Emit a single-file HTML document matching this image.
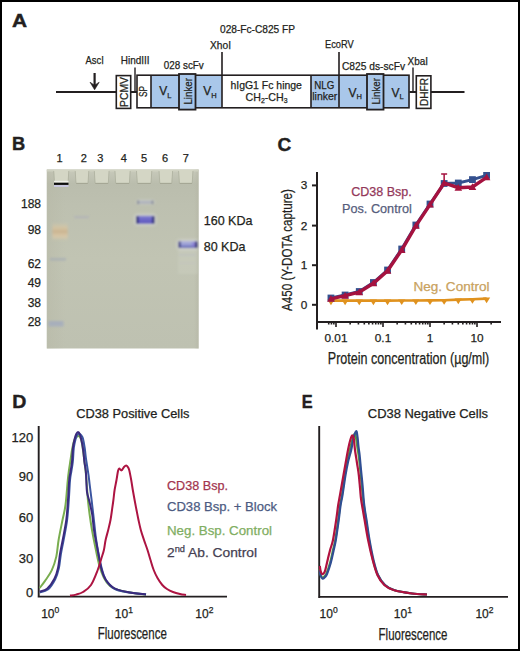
<!DOCTYPE html>
<html><head><meta charset="utf-8"><title>Figure</title>
<style>
html,body{margin:0;padding:0;background:#fff;}
body{width:520px;height:651px;overflow:hidden;}
svg{display:block;font-family:"Liberation Sans",sans-serif;}
</style></head><body>
<svg width="520" height="651" viewBox="0 0 520 651">
<rect x="1" y="1" width="518" height="649" fill="#fff" stroke="#000" stroke-width="2"/>
<text transform="translate(11.9,26.6) scale(1.1,1)" font-size="19" font-weight="bold" fill="#231f20" stroke="#231f20" stroke-width="0.45">A</text>
<path d="M56,92H116 M131,92H137 M409,92H416 M431,92H464.5" stroke="#231f20" stroke-width="1.9" fill="none"/>
<path d="M94.6,73V86" stroke="#231f20" stroke-width="2.2"/>
<path d="M90,82.2 L94.6,89.8 L99.2,82.2 L94.6,85.2Z" fill="#231f20" stroke="#231f20" stroke-width="0.6" stroke-linejoin="round"/>
<rect x="151" y="75" width="160" height="33" fill="#a9c7ea"/>
<rect x="222" y="75" width="89" height="33" fill="#fff"/>
<rect x="311" y="75" width="98.5" height="33" fill="#a9c7ea"/>
<rect x="137" y="75.2" width="272" height="32.6" fill="none" stroke="#231f20" stroke-width="1.6"/>
<path d="M151,75V108 M222,52V108 M311,75V108 M339,52V108" stroke="#231f20" stroke-width="1.6" fill="none"/>
<path d="M135,67.5V92 M413,67.5V92" stroke="#231f20" stroke-width="1.4" fill="none"/>
<rect x="179" y="74" width="16.5" height="35.6" fill="#a9c7ea" stroke="#231f20" stroke-width="1.8"/>
<rect x="367" y="74" width="16.5" height="35.6" fill="#a9c7ea" stroke="#231f20" stroke-width="1.8"/>
<rect x="116.3" y="75.6" width="14.4" height="32.8" fill="#fff" stroke="#231f20" stroke-width="1.6"/>
<rect x="416.3" y="75.8" width="14.6" height="32.6" fill="#fff" stroke="#231f20" stroke-width="1.6"/>
<text transform="translate(127.6,92) rotate(-90)" x="0" y="0" font-size="10.8" fill="#231f20" text-anchor="middle" textLength="30" lengthAdjust="spacingAndGlyphs" stroke="#231f20" stroke-width="0.25">PCMV</text>
<text transform="translate(147.2,91.6) rotate(-90)" x="0" y="0" font-size="10.8" fill="#231f20" text-anchor="middle" textLength="11" lengthAdjust="spacingAndGlyphs" stroke="#231f20" stroke-width="0.25">SP</text>
<text transform="translate(191.8,91.3) rotate(-90)" x="0" y="0" font-size="10.8" fill="#231f20" text-anchor="middle" textLength="26.5" lengthAdjust="spacingAndGlyphs" stroke="#231f20" stroke-width="0.25">Linker</text>
<text transform="translate(379.8,91.3) rotate(-90)" x="0" y="0" font-size="10.8" fill="#231f20" text-anchor="middle" textLength="26.5" lengthAdjust="spacingAndGlyphs" stroke="#231f20" stroke-width="0.25">Linker</text>
<text transform="translate(427.6,92) rotate(-90)" x="0" y="0" font-size="10.8" fill="#231f20" text-anchor="middle" textLength="28" lengthAdjust="spacingAndGlyphs" stroke="#231f20" stroke-width="0.25">DHFR</text>
<text x="159.3" y="95.4" font-size="12" fill="#231f20" stroke="#231f20" stroke-width="0.25">V<tspan font-size="7.5" dy="2.2">L</tspan></text>
<text x="203.3" y="95.4" font-size="12" fill="#231f20" stroke="#231f20" stroke-width="0.25">V<tspan font-size="7.5" dy="2.2">H</tspan></text>
<text x="348.6" y="96.9" font-size="12" fill="#231f20" stroke="#231f20" stroke-width="0.25">V<tspan font-size="7.5" dy="2.2">H</tspan></text>
<text x="391.6" y="96.9" font-size="12" fill="#231f20" stroke="#231f20" stroke-width="0.25">V<tspan font-size="7.5" dy="2.2">L</tspan></text>
<text x="266.2" y="88.5" font-size="10.8" fill="#231f20" text-anchor="middle" textLength="71.5" lengthAdjust="spacingAndGlyphs" stroke="#231f20" stroke-width="0.25">hIgG1 Fc hinge</text>
<text x="245.6" y="101.2" font-size="10.8" fill="#231f20" textLength="42" lengthAdjust="spacingAndGlyphs" stroke="#231f20" stroke-width="0.25">CH<tspan font-size="7" dy="2">2</tspan><tspan dy="-2">-CH</tspan><tspan font-size="7" dy="2">3</tspan></text>
<text x="324.3" y="89" font-size="10.8" fill="#231f20" text-anchor="middle" textLength="20" lengthAdjust="spacingAndGlyphs" stroke="#231f20" stroke-width="0.25">NLG</text>
<text x="324.8" y="100" font-size="10.8" fill="#231f20" text-anchor="middle" textLength="25" lengthAdjust="spacingAndGlyphs" stroke="#231f20" stroke-width="0.25">linker</text>
<text x="220" y="33" font-size="10.4" fill="#231f20" textLength="75" lengthAdjust="spacingAndGlyphs" stroke="#231f20" stroke-width="0.25">028-Fc-C825 FP</text>
<text x="210" y="48.7" font-size="10.4" fill="#231f20" textLength="21" lengthAdjust="spacingAndGlyphs" stroke="#231f20" stroke-width="0.25">XhoI</text>
<text x="325" y="47.5" font-size="10.4" fill="#231f20" textLength="28.7" lengthAdjust="spacingAndGlyphs" stroke="#231f20" stroke-width="0.25">EcoRV</text>
<text x="85.5" y="64.3" font-size="10.4" fill="#231f20" textLength="18.3" lengthAdjust="spacingAndGlyphs" stroke="#231f20" stroke-width="0.25">AscI</text>
<text x="120.8" y="64.3" font-size="10.4" fill="#231f20" textLength="28.7" lengthAdjust="spacingAndGlyphs" stroke="#231f20" stroke-width="0.25">HindIII</text>
<text x="163.8" y="69.4" font-size="10.4" fill="#231f20" textLength="40" lengthAdjust="spacingAndGlyphs" stroke="#231f20" stroke-width="0.25">028 scFv</text>
<text x="342" y="70" font-size="10.4" fill="#231f20" textLength="63" lengthAdjust="spacingAndGlyphs" stroke="#231f20" stroke-width="0.25">C825 ds-scFv</text>
<text x="407.5" y="64.5" font-size="10.4" fill="#231f20" textLength="20.5" lengthAdjust="spacingAndGlyphs" stroke="#231f20" stroke-width="0.25">XbaI</text>
<text transform="translate(11.9,150.4) scale(0.96,1)" font-size="19" font-weight="bold" fill="#231f20" stroke="#231f20" stroke-width="0.45">B</text>
<text x="59.6" y="162" font-size="11" fill="#231f20" text-anchor="middle" stroke="#231f20" stroke-width="0.25">1</text>
<text x="83.8" y="162" font-size="11" fill="#231f20" text-anchor="middle" stroke="#231f20" stroke-width="0.25">2</text>
<text x="100.4" y="162" font-size="11" fill="#231f20" text-anchor="middle" stroke="#231f20" stroke-width="0.25">3</text>
<text x="123.8" y="162" font-size="11" fill="#231f20" text-anchor="middle" stroke="#231f20" stroke-width="0.25">4</text>
<text x="144" y="162" font-size="11" fill="#231f20" text-anchor="middle" stroke="#231f20" stroke-width="0.25">5</text>
<text x="165" y="162" font-size="11" fill="#231f20" text-anchor="middle" stroke="#231f20" stroke-width="0.25">6</text>
<text x="185.8" y="162" font-size="11" fill="#231f20" text-anchor="middle" stroke="#231f20" stroke-width="0.25">7</text>
<text x="41" y="207.5" font-size="12" fill="#231f20" text-anchor="end" stroke="#231f20" stroke-width="0.25">188</text>
<text x="41" y="234" font-size="12" fill="#231f20" text-anchor="end" stroke="#231f20" stroke-width="0.25">98</text>
<text x="41" y="267.5" font-size="12" fill="#231f20" text-anchor="end" stroke="#231f20" stroke-width="0.25">62</text>
<text x="41" y="286.5" font-size="12" fill="#231f20" text-anchor="end" stroke="#231f20" stroke-width="0.25">49</text>
<text x="41" y="306.5" font-size="12" fill="#231f20" text-anchor="end" stroke="#231f20" stroke-width="0.25">38</text>
<text x="41" y="326" font-size="12" fill="#231f20" text-anchor="end" stroke="#231f20" stroke-width="0.25">28</text>
<text x="203.7" y="225" font-size="12.4" fill="#231f20" textLength="48.8" lengthAdjust="spacingAndGlyphs" stroke="#231f20" stroke-width="0.25">160 KDa</text>
<text x="203.7" y="251.3" font-size="12.4" fill="#231f20" textLength="41.8" lengthAdjust="spacingAndGlyphs" stroke="#231f20" stroke-width="0.25">80 KDa</text>
<defs>
<linearGradient id="gel" x1="0" y1="0" x2="0" y2="1">
<stop offset="0" stop-color="#c8cabb"/><stop offset="0.08" stop-color="#babdad"/><stop offset="0.2" stop-color="#bdc0b0"/><stop offset="0.5" stop-color="#c1c4b3"/><stop offset="1" stop-color="#bec1b1"/>
</linearGradient>
<linearGradient id="gelx" x1="0" y1="0" x2="1" y2="0">
<stop offset="0" stop-color="#b7b8a6" stop-opacity="0.5"/><stop offset="0.12" stop-color="#b7b8a6" stop-opacity="0"/><stop offset="0.97" stop-color="#b5b6a5" stop-opacity="0"/><stop offset="1" stop-color="#b5b6a5" stop-opacity="0.6"/>
</linearGradient>
<linearGradient id="b5" x1="0" y1="0" x2="1" y2="0">
<stop offset="0" stop-color="#2a2a7a"/><stop offset="0.1" stop-color="#5b55bb"/><stop offset="0.3" stop-color="#8581d6"/><stop offset="0.7" stop-color="#8581d6"/><stop offset="0.9" stop-color="#5b55bb"/><stop offset="1" stop-color="#2a2a7a"/>
</linearGradient>
<linearGradient id="b7" x1="0" y1="0" x2="1" y2="0">
<stop offset="0" stop-color="#3a3a88"/><stop offset="0.1" stop-color="#8e96d2"/><stop offset="0.5" stop-color="#9aa0da"/><stop offset="0.8" stop-color="#8a7fd4"/><stop offset="0.92" stop-color="#4a3f9c"/><stop offset="1" stop-color="#2a2670"/>
</linearGradient>
<linearGradient id="orng" x1="0" y1="0" x2="0" y2="1">
<stop offset="0" stop-color="#d6c9aa" stop-opacity="0"/><stop offset="0.3" stop-color="#d8c4a0" stop-opacity="0.8"/><stop offset="0.5" stop-color="#cdb48e" stop-opacity="0.9"/><stop offset="0.75" stop-color="#dcc8a6" stop-opacity="0.85"/><stop offset="1" stop-color="#d6c9aa" stop-opacity="0"/>
</linearGradient>
<filter id="blur1" x="-20%" y="-80%" width="140%" height="260%"><feGaussianBlur stdDeviation="0.6"/></filter>
<filter id="blur3" x="-20%" y="-80%" width="140%" height="260%"><feGaussianBlur stdDeviation="0.9"/></filter>
<filter id="blur2" x="-30%" y="-80%" width="160%" height="260%"><feGaussianBlur stdDeviation="1.2"/></filter>
</defs>
<rect x="46.8" y="169.5" width="151.8" height="179" fill="url(#gel)"/>
<rect x="46.8" y="169.5" width="151.8" height="179" fill="url(#gelx)"/>
<rect x="46.8" y="169.5" width="151.8" height="2" fill="#cfd1c1"/>
<path d="M54,170 L68.5,170 L67.9,183.3 L54.6,183.3Z" fill="#d4d6c5"/>
<path d="M54.6,183.4 L67.9,183.4" stroke="#a4a694" stroke-width="1.1"/>
<path d="M53.7,171 L54.5,183 M68.8,171 L68.0,183" stroke="#aeb19f" stroke-width="1" opacity="0.8"/>
<path d="M75.5,170 L88.5,170 L87.9,183.3 L76.1,183.3Z" fill="#d4d6c5"/>
<path d="M76.1,183.4 L87.9,183.4" stroke="#a4a694" stroke-width="1.1"/>
<path d="M75.2,171 L76.0,183 M88.8,171 L88.0,183" stroke="#aeb19f" stroke-width="1" opacity="0.8"/>
<path d="M94.6,170 L108.8,170 L108.2,183.3 L95.19999999999999,183.3Z" fill="#d4d6c5"/>
<path d="M95.19999999999999,183.4 L108.2,183.4" stroke="#a4a694" stroke-width="1.1"/>
<path d="M94.3,171 L95.1,183 M109.1,171 L108.3,183" stroke="#aeb19f" stroke-width="1" opacity="0.8"/>
<path d="M115.2,170 L129.9,170 L129.3,183.3 L115.8,183.3Z" fill="#d4d6c5"/>
<path d="M115.8,183.4 L129.3,183.4" stroke="#a4a694" stroke-width="1.1"/>
<path d="M114.9,171 L115.7,183 M130.20000000000002,171 L129.4,183" stroke="#aeb19f" stroke-width="1" opacity="0.8"/>
<path d="M136.8,170 L151.5,170 L150.9,183.3 L137.4,183.3Z" fill="#d4d6c5"/>
<path d="M137.4,183.4 L150.9,183.4" stroke="#a4a694" stroke-width="1.1"/>
<path d="M136.5,171 L137.3,183 M151.8,171 L151.0,183" stroke="#aeb19f" stroke-width="1" opacity="0.8"/>
<path d="M159.3,170 L172.3,170 L171.70000000000002,183.3 L159.9,183.3Z" fill="#d4d6c5"/>
<path d="M159.9,183.4 L171.70000000000002,183.4" stroke="#a4a694" stroke-width="1.1"/>
<path d="M159.0,171 L159.8,183 M172.60000000000002,171 L171.8,183" stroke="#aeb19f" stroke-width="1" opacity="0.8"/>
<path d="M178.9,170 L192.7,170 L192.1,183.3 L179.5,183.3Z" fill="#d4d6c5"/>
<path d="M179.5,183.4 L192.1,183.4" stroke="#a4a694" stroke-width="1.1"/>
<path d="M178.6,171 L179.4,183 M193.0,171 L192.2,183" stroke="#aeb19f" stroke-width="1" opacity="0.8"/>
<g filter="url(#blur1)">
<rect x="54" y="180.8" width="14.5" height="1.8" fill="#f0f0ea"/>
<rect x="54" y="182.7" width="14.5" height="2.2" fill="#111"/>
<rect x="54" y="185" width="14.5" height="2" fill="#c9c8e0"/>
</g>
<g filter="url(#blur2)">
<rect x="52.4" y="222" width="15.3" height="19" fill="url(#orng)"/>
<rect x="50" y="258" width="16" height="2.5" fill="#9fa6b6" opacity="0.6"/>
<rect x="48.5" y="321" width="15" height="5.5" fill="#a3abbe" opacity="0.8"/>
<rect x="74" y="216" width="15" height="2.2" fill="#a9aabc" opacity="0.5"/>
</g>
<defs>
<linearGradient id="v5" x1="0" y1="0" x2="0" y2="1">
<stop offset="0" stop-color="#8480d2"/><stop offset="0.5" stop-color="#6a64c6"/><stop offset="1" stop-color="#5e58be"/>
</linearGradient>
<linearGradient id="v7" x1="0" y1="0" x2="0" y2="1">
<stop offset="0" stop-color="#b2b5da"/><stop offset="0.5" stop-color="#9a9fd6"/><stop offset="1" stop-color="#6f72bb"/>
</linearGradient>
</defs>
<g filter="url(#blur3)">
<rect x="136" y="199.5" width="19" height="5" rx="2" fill="#d6d9d8" opacity="0.5"/>
<rect x="137.2" y="200.8" width="16.2" height="3" fill="#aeb2bc"/>
<rect x="137.2" y="200.5" width="1.6" height="3.6" fill="#7d828e"/>
<rect x="151.8" y="200.5" width="1.6" height="3.6" fill="#7d828e"/>
<rect x="134.5" y="214.3" width="21.5" height="11" rx="3" fill="#e4e6ea" opacity="0.55" filter="url(#blur2)"/>
<rect x="177" y="239.8" width="21.5" height="10" rx="3" fill="#e4e6ea" opacity="0.55" filter="url(#blur2)"/>
<rect x="136.3" y="215.8" width="18" height="8" rx="1" fill="url(#v5)"/>
<rect x="136.3" y="216" width="2.2" height="7.6" fill="#26286e"/>
<rect x="152.2" y="216" width="2.2" height="7.6" fill="#26286e"/>
<rect x="178.6" y="241.1" width="19" height="6.8" rx="1" fill="url(#v7)"/>
<rect x="178.6" y="241.5" width="2" height="6.4" fill="#2e2f72"/>
<rect x="195" y="241.5" width="2.4" height="6.4" fill="#2e2a70"/>
<rect x="192" y="242" width="3" height="5.5" fill="#8a7ed6" opacity="0.8"/>
<rect x="180" y="246.6" width="15" height="1.4" fill="#5a5fae" opacity="0.7"/>
<rect x="178" y="250" width="20" height="24" fill="#d2d4c8" opacity="0.3"/>
<rect x="179" y="254" width="17" height="1.8" fill="#b4b6c6" opacity="0.35"/>
<rect x="179" y="262.5" width="17" height="1.5" fill="#babcc8" opacity="0.25"/>
</g>
<text x="277.5" y="150.9" font-size="19" fill="#231f20" font-weight="bold" stroke="#231f20" stroke-width="0.45">C</text>
<path d="M317,172V329.5 M316,322H501" stroke="#231f20" stroke-width="2" fill="none"/>
<path d="M312,185.4H317" stroke="#231f20" stroke-width="2"/>
<text x="307.2" y="189.4" font-size="11.8" fill="#231f20" text-anchor="end" stroke="#231f20" stroke-width="0.25">3</text>
<path d="M312,225.6H317" stroke="#231f20" stroke-width="2"/>
<text x="307.2" y="229.6" font-size="11.8" fill="#231f20" text-anchor="end" stroke="#231f20" stroke-width="0.25">2</text>
<path d="M312,265.2H317" stroke="#231f20" stroke-width="2"/>
<text x="307.2" y="269.2" font-size="11.8" fill="#231f20" text-anchor="end" stroke="#231f20" stroke-width="0.25">1</text>
<path d="M312,304.8H317" stroke="#231f20" stroke-width="2"/>
<text x="307.2" y="308.8" font-size="11.8" fill="#231f20" text-anchor="end" stroke="#231f20" stroke-width="0.25">0</text>
<path d="M328.72,322V324.5 M331.45,322V324.5 M333.85,322V324.5 M336.00,322V327 M350.15,322V324.5 M358.42,322V324.5 M364.30,322V324.5 M368.85,322V324.5 M372.57,322V324.5 M375.72,322V324.5 M378.45,322V324.5 M380.85,322V324.5 M383.00,322V327 M397.15,322V324.5 M405.42,322V324.5 M411.30,322V324.5 M415.85,322V324.5 M419.57,322V324.5 M422.72,322V324.5 M425.45,322V324.5 M427.85,322V324.5 M430.00,322V327 M444.15,322V324.5 M452.42,322V324.5 M458.30,322V324.5 M462.85,322V324.5 M466.57,322V324.5 M469.72,322V324.5 M472.45,322V324.5 M474.85,322V324.5 M477.00,322V327 M491.15,322V324.5 " stroke="#231f20" stroke-width="1.6" fill="none"/>
<text x="336.0" y="342" font-size="11.8" fill="#231f20" text-anchor="middle" stroke="#231f20" stroke-width="0.25">0.01</text>
<text x="383.0" y="342" font-size="11.8" fill="#231f20" text-anchor="middle" stroke="#231f20" stroke-width="0.25">0.1</text>
<text x="430.0" y="342" font-size="11.8" fill="#231f20" text-anchor="middle" stroke="#231f20" stroke-width="0.25">1</text>
<text x="477.0" y="342" font-size="11.8" fill="#231f20" text-anchor="middle" stroke="#231f20" stroke-width="0.25">10</text>
<text x="327.8" y="364.3" font-size="16" fill="#231f20" textLength="161.5" lengthAdjust="spacingAndGlyphs" stroke="#231f20" stroke-width="0.25">Protein concentration (µg/ml)</text>
<text transform="translate(292,250) rotate(-90)" x="0" y="0" font-size="15.5" fill="#231f20" text-anchor="middle" textLength="122" lengthAdjust="spacingAndGlyphs" stroke="#231f20" stroke-width="0.25">A450 (Y-DOTA capture)</text>
<path d="M330.96,300.60 L345.11,300.60 L359.26,300.60 L373.41,300.60 L387.55,300.60 L401.70,300.50 L415.85,300.50 L430.00,300.40 L444.15,300.20 L458.30,299.60 L472.45,299.20 L486.59,298.60" stroke="#e0921e" stroke-width="2.6" fill="none"/>
<path d="M327.36,299.60 L334.56,299.60 L330.96,305.20Z" fill="#e0921e"/>
<path d="M341.51,299.60 L348.71,299.60 L345.11,305.20Z" fill="#e0921e"/>
<path d="M355.66,299.60 L362.86,299.60 L359.26,305.20Z" fill="#e0921e"/>
<path d="M369.81,299.60 L377.01,299.60 L373.41,305.20Z" fill="#e0921e"/>
<path d="M383.95,299.60 L391.15,299.60 L387.55,305.20Z" fill="#e0921e"/>
<path d="M398.10,299.50 L405.30,299.50 L401.70,305.10Z" fill="#e0921e"/>
<path d="M412.25,299.50 L419.45,299.50 L415.85,305.10Z" fill="#e0921e"/>
<path d="M426.40,299.40 L433.60,299.40 L430.00,305.00Z" fill="#e0921e"/>
<path d="M440.55,299.20 L447.75,299.20 L444.15,304.80Z" fill="#e0921e"/>
<path d="M454.70,298.60 L461.90,298.60 L458.30,304.20Z" fill="#e0921e"/>
<path d="M468.85,298.20 L476.05,298.20 L472.45,303.80Z" fill="#e0921e"/>
<path d="M482.99,297.60 L490.19,297.60 L486.59,303.20Z" fill="#e0921e"/>
<path d="M330.96,298.00 L345.11,295.00 L359.26,291.50 L373.41,282.50 L387.55,270.00 L401.70,249.00 L415.85,225.00 L430.00,204.00 L444.15,183.50 L458.30,183.00 L472.45,179.60 L486.59,175.40" stroke="#34508e" stroke-width="3" fill="none"/>
<rect x="327.56" y="294.60" width="6.8" height="6.8" fill="#34508e"/>
<rect x="341.71" y="291.60" width="6.8" height="6.8" fill="#34508e"/>
<rect x="355.86" y="288.10" width="6.8" height="6.8" fill="#34508e"/>
<rect x="370.01" y="279.10" width="6.8" height="6.8" fill="#34508e"/>
<rect x="384.15" y="266.60" width="6.8" height="6.8" fill="#34508e"/>
<rect x="398.30" y="245.60" width="6.8" height="6.8" fill="#34508e"/>
<rect x="412.45" y="221.60" width="6.8" height="6.8" fill="#34508e"/>
<rect x="426.60" y="200.60" width="6.8" height="6.8" fill="#34508e"/>
<rect x="440.75" y="180.10" width="6.8" height="6.8" fill="#34508e"/>
<rect x="454.90" y="179.60" width="6.8" height="6.8" fill="#34508e"/>
<rect x="469.05" y="176.20" width="6.8" height="6.8" fill="#34508e"/>
<rect x="483.19" y="172.00" width="6.8" height="6.8" fill="#34508e"/>
<path d="M330.96,298.80 L345.11,295.70 L359.26,292.20 L373.41,283.30 L387.55,270.80 L401.70,250.00 L415.85,225.80 L430.00,204.60 L444.15,183.00 L458.30,187.70 L472.45,187.00 L486.59,177.30" stroke="#a5123f" stroke-width="3.4" fill="none"/>
<path d="M327.16,301.80 L334.76,301.80 L330.96,295.00Z" fill="#a5123f"/>
<path d="M341.31,298.70 L348.91,298.70 L345.11,291.90Z" fill="#a5123f"/>
<path d="M355.46,295.20 L363.06,295.20 L359.26,288.40Z" fill="#a5123f"/>
<path d="M369.61,286.30 L377.21,286.30 L373.41,279.50Z" fill="#a5123f"/>
<path d="M383.75,273.80 L391.35,273.80 L387.55,267.00Z" fill="#a5123f"/>
<path d="M397.90,253.00 L405.50,253.00 L401.70,246.20Z" fill="#a5123f"/>
<path d="M412.05,228.80 L419.65,228.80 L415.85,222.00Z" fill="#a5123f"/>
<path d="M426.20,207.60 L433.80,207.60 L430.00,200.80Z" fill="#a5123f"/>
<path d="M440.35,186.00 L447.95,186.00 L444.15,179.20Z" fill="#a5123f"/>
<path d="M454.50,190.70 L462.10,190.70 L458.30,183.90Z" fill="#a5123f"/>
<path d="M468.65,190.00 L476.25,190.00 L472.45,183.20Z" fill="#a5123f"/>
<path d="M482.79,180.30 L490.39,180.30 L486.59,173.50Z" fill="#a5123f"/>
<path d="M444.15,183V174 M441.15,174H447.15" stroke="#a5123f" stroke-width="1.5"/>
<text x="351.2" y="196.4" font-size="12.5" fill="#93385a" textLength="60.5" lengthAdjust="spacingAndGlyphs" stroke="#93385a" stroke-width="0.25">CD38 Bsp.</text>
<text x="342" y="212.9" font-size="12.5" fill="#565d7c" textLength="69.8" lengthAdjust="spacingAndGlyphs" stroke="#565d7c" stroke-width="0.25">Pos. Control</text>
<text x="413.5" y="290.8" font-size="12.2" fill="#c9a25e" textLength="76" lengthAdjust="spacingAndGlyphs" stroke="#c9a25e" stroke-width="0.25">Neg. Control</text>
<text transform="translate(12.2,407.9) scale(1.03,1)" font-size="19" font-weight="bold" fill="#231f20" stroke="#231f20" stroke-width="0.45">D</text>
<text x="76.2" y="418" font-size="12" fill="#231f20" textLength="113.2" lengthAdjust="spacingAndGlyphs" stroke="#231f20" stroke-width="0.25">CD38 Positive Cells</text>
<path d="M38.7,426V597.6 M37.7,596.6H227" stroke="#231f20" stroke-width="1.9" fill="none"/>
<text x="33.3" y="442.3" font-size="13" fill="#231f20" text-anchor="end" stroke="#231f20" stroke-width="0.25">120</text>
<text x="33.3" y="480.8" font-size="13" fill="#231f20" text-anchor="end" stroke="#231f20" stroke-width="0.25">90</text>
<text x="33.3" y="522" font-size="13" fill="#231f20" text-anchor="end" stroke="#231f20" stroke-width="0.25">60</text>
<text x="33.3" y="562.7" font-size="13" fill="#231f20" text-anchor="end" stroke="#231f20" stroke-width="0.25">30</text>
<text x="33.3" y="597" font-size="13" fill="#231f20" text-anchor="end" stroke="#231f20" stroke-width="0.25">0</text>
<text x="41.2" y="617.7" font-size="12" fill="#231f20" stroke="#231f20" stroke-width="0.25">10<tspan font-size="8.5" dy="-5">0</tspan></text>
<text x="114.8" y="617.7" font-size="12" fill="#231f20" stroke="#231f20" stroke-width="0.25">10<tspan font-size="8.5" dy="-5">1</tspan></text>
<text x="195.3" y="617.7" font-size="12" fill="#231f20" stroke="#231f20" stroke-width="0.25">10<tspan font-size="8.5" dy="-5">2</tspan></text>
<text x="97.8" y="639.3" font-size="16" fill="#231f20" textLength="69" lengthAdjust="spacingAndGlyphs" stroke="#231f20" stroke-width="0.25">Fluorescence</text>
<path d="M39.70,588.00 C40.62,586.77 43.20,583.53 45.20,580.60 C47.20,577.67 49.85,574.40 51.70,570.40 C53.55,566.40 55.15,561.67 56.30,556.60 C57.45,551.53 57.57,546.10 58.60,540.00 C59.63,533.90 61.35,525.83 62.50,520.00 C63.65,514.17 64.62,511.67 65.50,505.00 C66.38,498.33 67.22,485.83 67.80,480.00 C68.38,474.17 68.55,473.33 69.00,470.00 C69.45,466.67 70.00,463.33 70.50,460.00 C71.00,456.67 71.42,453.17 72.00,450.00 C72.58,446.83 73.25,443.17 74.00,441.00 C74.75,438.83 75.75,437.83 76.50,437.00 C77.25,436.17 77.92,436.00 78.50,436.00 C79.08,436.00 79.50,436.17 80.00,437.00 C80.50,437.83 81.00,438.83 81.50,441.00 C82.00,443.17 82.50,446.50 83.00,450.00 C83.50,453.50 84.00,457.83 84.50,462.00 C85.00,466.17 85.55,470.33 86.00,475.00 C86.45,479.67 86.88,485.83 87.20,490.00 C87.52,494.17 87.48,495.83 87.90,500.00 C88.32,504.17 89.02,510.00 89.70,515.00 C90.38,520.00 91.03,524.50 92.00,530.00 C92.97,535.50 94.25,542.00 95.50,548.00 C96.75,554.00 98.08,561.00 99.50,566.00 C100.92,571.00 102.25,574.67 104.00,578.00 C105.75,581.33 107.67,584.00 110.00,586.00 C112.33,588.00 114.67,588.92 118.00,590.00 C121.33,591.08 125.33,591.75 130.00,592.50 C134.67,593.25 143.33,594.17 146.00,594.50" stroke="#79ad4f" stroke-width="2" fill="none"/>
<path d="M39.70,592.20 C41.05,591.77 45.22,591.77 47.80,589.60 C50.38,587.43 53.35,582.80 55.20,579.20 C57.05,575.60 57.95,572.20 58.90,568.00 C59.85,563.80 60.12,558.67 60.90,554.00 C61.68,549.33 62.57,545.67 63.60,540.00 C64.63,534.33 66.23,526.67 67.10,520.00 C67.97,513.33 68.32,506.62 68.80,500.00 C69.28,493.38 69.57,485.13 70.00,480.30 C70.43,475.47 70.93,474.05 71.40,471.00 C71.87,467.95 72.40,465.83 72.80,462.00 C73.20,458.17 73.33,451.83 73.80,448.00 C74.27,444.17 75.02,441.20 75.60,439.00 C76.18,436.80 76.73,435.67 77.30,434.80 C77.87,433.93 78.47,433.83 79.00,433.80 C79.53,433.77 80.05,434.23 80.50,434.60 C80.95,434.97 81.28,435.30 81.70,436.00 C82.12,436.70 82.50,436.80 83.00,438.80 C83.50,440.80 84.23,444.92 84.70,448.00 C85.17,451.08 85.38,454.22 85.80,457.30 C86.22,460.38 86.73,463.43 87.20,466.50 C87.67,469.57 88.20,472.78 88.60,475.70 C89.00,478.62 89.10,479.95 89.60,484.00 C90.10,488.05 90.88,494.00 91.60,500.00 C92.32,506.00 93.13,513.33 93.90,520.00 C94.67,526.67 95.23,533.33 96.20,540.00 C97.17,546.67 98.45,554.17 99.70,560.00 C100.95,565.83 102.32,571.17 103.70,575.00 C105.08,578.83 106.12,580.67 108.00,583.00 C109.88,585.33 111.78,587.45 115.00,589.00 C118.22,590.55 122.13,591.38 127.30,592.30 C132.47,593.22 142.88,594.13 146.00,594.50" stroke="#3b55a0" stroke-width="2" fill="none"/>
<path d="M39.70,591.60 C40.93,591.13 44.65,590.95 47.10,588.80 C49.55,586.65 52.57,582.23 54.40,578.70 C56.23,575.17 57.17,571.75 58.10,567.60 C59.03,563.45 59.23,558.40 60.00,553.80 C60.77,549.20 61.65,545.63 62.70,540.00 C63.75,534.37 65.42,526.67 66.30,520.00 C67.18,513.33 67.52,506.62 68.00,500.00 C68.48,493.38 68.77,485.13 69.20,480.30 C69.63,475.47 70.13,474.07 70.60,471.00 C71.07,467.93 71.62,465.73 72.00,461.90 C72.38,458.07 72.45,451.85 72.90,448.00 C73.35,444.15 74.13,441.13 74.70,438.80 C75.27,436.47 75.75,435.15 76.30,434.00 C76.85,432.85 77.42,431.87 78.00,431.90 C78.58,431.93 79.12,432.28 79.80,434.20 C80.48,436.12 81.48,440.33 82.10,443.40 C82.72,446.47 83.12,449.52 83.50,452.60 C83.88,455.68 84.02,458.83 84.40,461.90 C84.78,464.97 85.48,467.98 85.80,471.00 C86.12,474.02 86.10,476.50 86.30,480.00 C86.50,483.50 86.47,488.33 87.00,492.00 C87.53,495.67 88.62,498.17 89.50,502.00 C90.38,505.83 91.55,510.33 92.30,515.00 C93.05,519.67 93.10,524.17 94.00,530.00 C94.90,535.83 96.42,543.33 97.70,550.00 C98.98,556.67 100.35,565.00 101.70,570.00 C103.05,575.00 103.78,577.00 105.80,580.00 C107.82,583.00 110.22,586.00 113.80,588.00 C117.38,590.00 121.93,590.92 127.30,592.00 C132.67,593.08 142.88,594.08 146.00,594.50" stroke="#3a2a7d" stroke-width="2" fill="none"/>
<path d="M70.00,595.60 C71.00,595.43 73.83,595.20 76.00,594.60 C78.17,594.00 80.50,593.60 83.00,592.00 C85.50,590.40 88.55,588.67 91.00,585.00 C93.45,581.33 95.95,574.50 97.70,570.00 C99.45,565.50 100.47,561.33 101.50,558.00 C102.53,554.67 103.22,553.00 103.90,550.00 C104.58,547.00 104.88,543.33 105.60,540.00 C106.32,536.67 107.38,533.33 108.20,530.00 C109.02,526.67 109.87,523.33 110.50,520.00 C111.13,516.67 111.52,513.33 112.00,510.00 C112.48,506.67 112.97,503.33 113.40,500.00 C113.83,496.67 114.08,493.33 114.60,490.00 C115.12,486.67 115.93,483.17 116.50,480.00 C117.07,476.83 117.55,472.92 118.00,471.00 C118.45,469.08 118.62,468.60 119.20,468.50 C119.78,468.40 120.70,470.65 121.50,470.40 C122.30,470.15 123.22,467.82 124.00,467.00 C124.78,466.18 125.57,465.50 126.20,465.50 C126.83,465.50 127.30,466.25 127.80,467.00 C128.30,467.75 128.63,467.83 129.20,470.00 C129.77,472.17 130.60,476.67 131.20,480.00 C131.80,483.33 132.23,486.67 132.80,490.00 C133.37,493.33 133.98,496.67 134.60,500.00 C135.22,503.33 135.85,506.67 136.50,510.00 C137.15,513.33 137.78,516.67 138.50,520.00 C139.22,523.33 139.88,526.67 140.80,530.00 C141.72,533.33 142.88,536.67 144.00,540.00 C145.12,543.33 146.42,546.67 147.50,550.00 C148.58,553.33 149.47,556.67 150.50,560.00 C151.53,563.33 152.53,567.00 153.70,570.00 C154.87,573.00 156.07,575.50 157.50,578.00 C158.93,580.50 160.72,583.17 162.30,585.00 C163.88,586.83 165.22,587.83 167.00,589.00 C168.78,590.17 170.83,591.17 173.00,592.00 C175.17,592.83 177.83,593.50 180.00,594.00 C182.17,594.50 185.00,594.83 186.00,595.00" stroke="#ad1442" stroke-width="2" fill="none"/>
<text x="167" y="489.5" font-size="12.6" fill="#a3354f" textLength="61" lengthAdjust="spacingAndGlyphs" stroke="#a3354f" stroke-width="0.25">CD38 Bsp.</text>
<text x="167" y="511.3" font-size="12.6" fill="#4d5b82" textLength="110" lengthAdjust="spacingAndGlyphs" stroke="#4d5b82" stroke-width="0.25">CD38 Bsp. + Block</text>
<text x="167" y="535" font-size="12.6" fill="#7fae62" textLength="105" lengthAdjust="spacingAndGlyphs" stroke="#7fae62" stroke-width="0.25">Neg. Bsp. Control</text>
<text x="167" y="557" font-size="12.6" fill="#463f52" textLength="90" lengthAdjust="spacingAndGlyphs" stroke="#463f52" stroke-width="0.25">2<tspan font-size="8.5" dy="-5">nd</tspan><tspan dy="5"> Ab. Control</tspan></text>
<text transform="translate(301.8,407.9) scale(0.86,1)" font-size="19" font-weight="bold" fill="#231f20" stroke="#231f20" stroke-width="0.45">E</text>
<text x="367.8" y="418" font-size="12" fill="#231f20" textLength="120.2" lengthAdjust="spacingAndGlyphs" stroke="#231f20" stroke-width="0.25">CD38 Negative Cells</text>
<path d="M319.2,426V597.9 M318.2,596.9H508" stroke="#231f20" stroke-width="1.9" fill="none"/>
<text x="319.6" y="617.7" font-size="12" fill="#231f20" stroke="#231f20" stroke-width="0.25">10<tspan font-size="8.5" dy="-5">0</tspan></text>
<text x="393.8" y="617.7" font-size="12" fill="#231f20" stroke="#231f20" stroke-width="0.25">10<tspan font-size="8.5" dy="-5">1</tspan></text>
<text x="475.4" y="617.7" font-size="12" fill="#231f20" stroke="#231f20" stroke-width="0.25">10<tspan font-size="8.5" dy="-5">2</tspan></text>
<text x="378.6" y="639.5" font-size="16" fill="#231f20" textLength="68.8" lengthAdjust="spacingAndGlyphs" stroke="#231f20" stroke-width="0.25">Fluorescence</text>
<path d="M319.80,569.00 C319.93,569.92 320.18,573.08 320.60,574.50 C321.02,575.92 321.60,577.25 322.30,577.50 C323.00,577.75 324.07,576.75 324.80,576.00 C325.53,575.25 325.78,575.33 326.70,573.00 C327.62,570.67 329.25,565.83 330.30,562.00 C331.35,558.17 332.17,553.67 333.00,550.00 C333.83,546.33 334.43,545.00 335.30,540.00 C336.17,535.00 337.40,525.83 338.20,520.00 C339.00,514.17 339.47,509.17 340.10,505.00 C340.73,500.83 341.22,500.00 342.00,495.00 C342.78,490.00 343.93,480.50 344.80,475.00 C345.67,469.50 346.37,466.17 347.20,462.00 C348.03,457.83 348.95,453.67 349.80,450.00 C350.65,446.33 351.52,442.67 352.30,440.00 C353.08,437.33 353.88,434.33 354.50,434.00 C355.12,433.67 355.50,435.67 356.00,438.00 C356.50,440.33 357.00,444.67 357.50,448.00 C358.00,451.33 358.50,454.00 359.00,458.00 C359.50,462.00 360.00,467.00 360.50,472.00 C361.00,477.00 361.50,482.83 362.00,488.00 C362.50,493.17 362.83,497.67 363.50,503.00 C364.17,508.33 365.08,513.83 366.00,520.00 C366.92,526.17 367.83,533.33 369.00,540.00 C370.17,546.67 371.53,554.17 373.00,560.00 C374.47,565.83 375.83,570.83 377.80,575.00 C379.77,579.17 382.13,582.50 384.80,585.00 C387.47,587.50 389.27,588.58 393.80,590.00 C398.33,591.42 406.47,592.75 412.00,593.50 C417.53,594.25 424.50,594.33 427.00,594.50" stroke="#5f9a3e" stroke-width="2.2" fill="none"/>
<path d="M319.80,570.00 C319.93,570.92 320.15,574.05 320.60,575.50 C321.05,576.95 321.77,578.45 322.50,578.70 C323.23,578.95 324.25,577.78 325.00,577.00 C325.75,576.22 326.05,576.33 327.00,574.00 C327.95,571.67 329.62,566.83 330.70,563.00 C331.78,559.17 332.65,554.83 333.50,551.00 C334.35,547.17 334.93,545.17 335.80,540.00 C336.67,534.83 337.90,525.83 338.70,520.00 C339.50,514.17 339.97,509.17 340.60,505.00 C341.23,500.83 341.68,500.00 342.50,495.00 C343.32,490.00 344.58,480.50 345.50,475.00 C346.42,469.50 347.05,466.17 348.00,462.00 C348.95,457.83 350.28,454.00 351.20,450.00 C352.12,446.00 352.67,441.13 353.50,438.00 C354.33,434.87 355.53,431.37 356.20,431.20 C356.87,431.03 357.12,434.37 357.50,437.00 C357.88,439.63 358.15,444.00 358.50,447.00 C358.85,450.00 359.18,451.17 359.60,455.00 C360.02,458.83 360.52,465.00 361.00,470.00 C361.48,475.00 361.97,479.17 362.50,485.00 C363.03,490.83 363.53,499.17 364.20,505.00 C364.87,510.83 365.62,514.17 366.50,520.00 C367.38,525.83 368.33,533.33 369.50,540.00 C370.67,546.67 372.08,554.17 373.50,560.00 C374.92,565.83 376.08,570.83 378.00,575.00 C379.92,579.17 382.33,582.50 385.00,585.00 C387.67,587.50 389.50,588.58 394.00,590.00 C398.50,591.42 406.50,592.75 412.00,593.50 C417.50,594.25 424.50,594.33 427.00,594.50" stroke="#2f4e93" stroke-width="2.2" fill="none"/>
<path d="M319.80,566.00 C319.93,566.83 320.23,569.67 320.60,571.00 C320.97,572.33 321.52,573.58 322.00,574.00 C322.48,574.42 322.97,574.10 323.50,573.50 C324.03,572.90 324.45,572.92 325.20,570.40 C325.95,567.88 327.15,561.93 328.00,558.40 C328.85,554.87 329.47,552.27 330.30,549.20 C331.13,546.13 332.02,544.87 333.00,540.00 C333.98,535.13 335.33,525.83 336.20,520.00 C337.07,514.17 337.57,509.17 338.20,505.00 C338.83,500.83 339.12,500.00 340.00,495.00 C340.88,490.00 342.53,480.50 343.50,475.00 C344.47,469.50 345.05,466.17 345.80,462.00 C346.55,457.83 347.30,453.50 348.00,450.00 C348.70,446.50 349.30,443.42 350.00,441.00 C350.70,438.58 351.57,435.83 352.20,435.50 C352.83,435.17 353.33,436.58 353.80,439.00 C354.27,441.42 354.47,446.00 355.00,450.00 C355.53,454.00 356.37,458.83 357.00,463.00 C357.63,467.17 358.27,470.50 358.80,475.00 C359.33,479.50 359.80,485.83 360.20,490.00 C360.60,494.17 360.47,495.00 361.20,500.00 C361.93,505.00 363.45,513.33 364.60,520.00 C365.75,526.67 366.75,533.33 368.10,540.00 C369.45,546.67 371.15,554.17 372.70,560.00 C374.25,565.83 375.47,570.83 377.40,575.00 C379.33,579.17 381.62,582.50 384.30,585.00 C386.98,587.50 388.88,588.58 393.50,590.00 C398.12,591.42 406.42,592.75 412.00,593.50 C417.58,594.25 424.50,594.33 427.00,594.50" stroke="#b0123f" stroke-width="2.2" fill="none"/>
</svg>
</body></html>
